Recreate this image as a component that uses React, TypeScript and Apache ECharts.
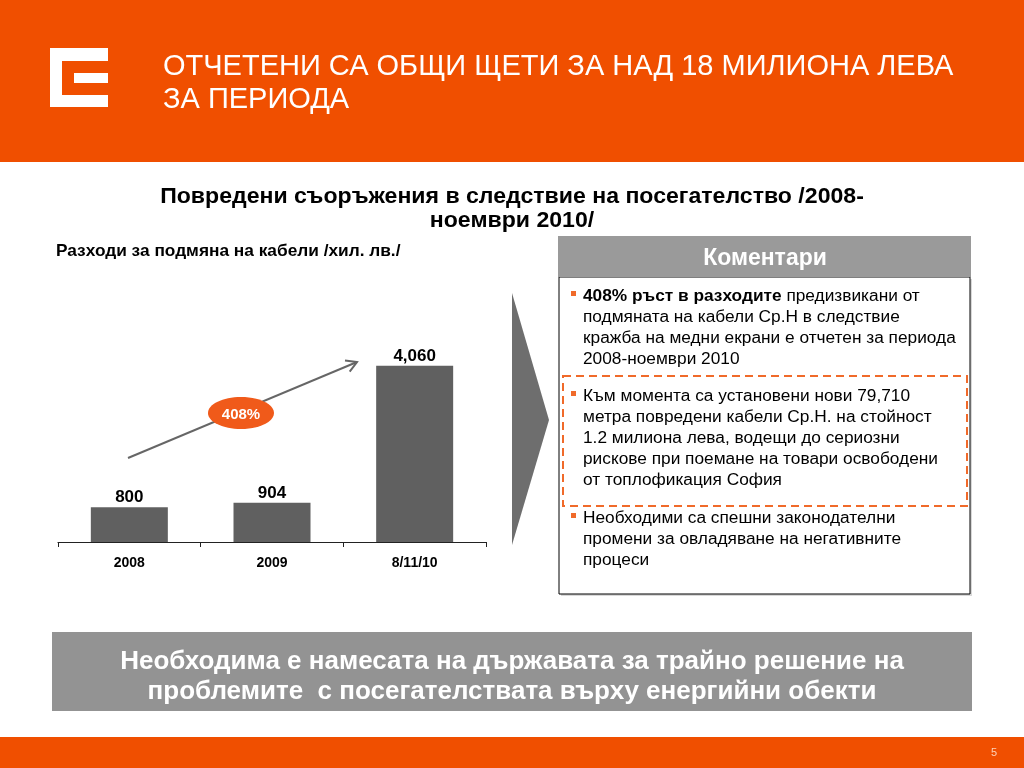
import React, { useEffect, useRef } from "react";
import * as echarts from "echarts";

const categories = ["2008", "2009", "8/11/10"];
const costs = [800, 904, 4060];
const growthLabel = "408%";
const titleLines = ["ОТЧЕТЕНИ СА ОБЩИ ЩЕТИ ЗА НАД 18 МИЛИОНА ЛЕВА", "ЗА ПЕРИОДА"];
const chartTitleLines = [
  "Повредени съоръжения в следствие на посегателство /2008-",
  "ноември 2010/",
];
const subtitle = "Разходи за подмяна на кабели /хил. лв./";
const commentHeader = "Коментари";
const bullet1Lines = [
  "{b|408% ръст в разходите} предизвикани от",
  "подмяната на кабели Ср.Н в следствие",
  "кражба на медни екрани е отчетен за периода",
  "2008-ноември 2010",
];
const bullet2Lines = [
  "Към момента са установени нови 79,710",
  "метра повредени кабели Ср.Н. на стойност",
  "1.2 милиона лева, водещи до сериозни",
  "рискове при поемане на товари освободени",
  "от топлофикация София",
];
const bullet3Lines = [
  "Необходими са спешни законодателни",
  "промени за овладяване на негативните",
  "процеси",
];
const bannerLines = [
  "Необходима е намесата на държавата за трайно решение на",
  "проблемите  с посегателствата върху енергийни обекти",
];
const pageNumber = "5";

const FONT = "Liberation Sans, Arial, sans-serif";
const ORANGE = "#F04F00";

export default function App() {
  const ref = useRef<HTMLDivElement>(null);

  useEffect(() => {
    if (!ref.current) return;
    const chart = echarts.init(ref.current, null, { renderer: "svg" });

    const graphics: any[] = [];
    graphics.push({ type: "rect", shape: { x: 0, y: 0, width: 1024, height: 162 }, style: { fill: ORANGE }, z: 0 });
    const logoRects = [
      [50, 48, 12, 59],
      [50, 48, 58, 13],
      [50, 95, 58, 12],
      [74, 73, 34, 10],
    ];
    logoRects.forEach(([x, y, w, h]) =>
      graphics.push({ type: "rect", shape: { x, y, width: w, height: h }, style: { fill: "#fff" } })
    );
    titleLines.forEach((t, i) =>
      graphics.push({
        type: "text",
        x: 163,
        y: 65 + i * 33,
        style: { text: t, fill: "#fff", fontSize: 29, fontFamily: FONT, textAlign: "left", textVerticalAlign: "middle" },
      })
    );
    graphics.push({ type: "rect", shape: { x: 0, y: 737, width: 1024, height: 31 }, style: { fill: ORANGE } });
    graphics.push({
      type: "text",
      x: 994,
      y: 752,
      style: { text: pageNumber, fill: "#fcd3b8", fontSize: 11, fontFamily: FONT, textAlign: "center", textVerticalAlign: "middle" },
    });
    chartTitleLines.forEach((t, i) =>
      graphics.push({
        type: "text",
        x: 512,
        y: 196 + i * 24,
        scaleX: 1.05,
        style: { text: t, fill: "#000", fontSize: 22, fontWeight: "bold", fontFamily: FONT, textAlign: "center", textVerticalAlign: "middle" },
      })
    );
    graphics.push({
      type: "text",
      x: 56,
      y: 250,
      style: { text: subtitle, fill: "#000", fontSize: 17.3, fontWeight: "bold", fontFamily: FONT, textAlign: "left", textVerticalAlign: "middle" },
    });
    graphics.push({ type: "line", shape: { x1: 128, y1: 458, x2: 357, y2: 362 }, style: { stroke: "#666", lineWidth: 2 } });
    graphics.push({
      type: "polyline",
      shape: { points: [[345, 360.5], [357, 362], [349.7, 371.6]] },
      style: { stroke: "#666", lineWidth: 2, fill: null },
    });
    graphics.push({ type: "ellipse", shape: { cx: 241, cy: 413, rx: 33, ry: 16 }, style: { fill: "#F05A1A" } });
    graphics.push({
      type: "text",
      x: 241,
      y: 413,
      style: { text: growthLabel, fill: "#fff", fontSize: 15, fontWeight: "bold", fontFamily: FONT, textAlign: "center", textVerticalAlign: "middle" },
    });
    graphics.push({
      type: "polygon",
      shape: { points: [[512, 293], [549, 420], [512, 545]] },
      style: { fill: "#6e6e6e" },
    });
    graphics.push({
      type: "rect",
      shape: { x: 561, y: 279, width: 411, height: 317 },
      style: { fill: "#d8d8d8" },
    });
    graphics.push({
      type: "rect",
      shape: { x: 559, y: 277, width: 411, height: 317 },
      style: { fill: "#fff", stroke: "#000", lineWidth: 1 },
    });
    graphics.push({ type: "rect", shape: { x: 558, y: 236, width: 413, height: 41 }, style: { fill: "#9a9a9a" } });
    graphics.push({
      type: "text",
      x: 765,
      y: 257,
      style: { text: commentHeader, fill: "#fff", fontSize: 23, fontWeight: "bold", fontFamily: FONT, textAlign: "center", textVerticalAlign: "middle" },
    });
    const addBullet = (lines: string[], y0: number) => {
      graphics.push({ type: "rect", shape: { x: 571, y: y0 - 4, width: 5, height: 5 }, style: { fill: "#F06A2A" } });
      lines.forEach((t, i) =>
        graphics.push({
          type: "text",
          x: 583,
          y: y0 + i * 21,
          style: {
            text: t,
            fill: "#000",
            fontSize: 17.3,
            fontFamily: FONT,
            textAlign: "left",
            textVerticalAlign: "middle",
            rich: { b: { fontSize: 17.3, fontWeight: "bold", fontFamily: FONT, fill: "#000" } },
          },
        })
      );
    };
    addBullet(bullet1Lines, 295);
    addBullet(bullet2Lines, 395);
    addBullet(bullet3Lines, 517);
    graphics.push({
      type: "rect",
      shape: { x: 563, y: 376, width: 404, height: 130 },
      style: { fill: null, stroke: "#F06A2A", lineWidth: 2, lineDash: [8, 5] },
    });
    graphics.push({ type: "rect", shape: { x: 52, y: 632, width: 920, height: 79 }, style: { fill: "#939393" } });
    bannerLines.forEach((t, i) =>
      graphics.push({
        type: "text",
        x: 512,
        y: 660 + i * 30,
        style: { text: t, fill: "#fff", fontSize: 26, fontWeight: "bold", fontFamily: FONT, textAlign: "center", textVerticalAlign: "middle" },
      })
    );

    chart.setOption({
      animation: false,
      grid: { left: 58, right: 538, top: 325, bottom: 226, containLabel: false },
      xAxis: {
        type: "category",
        data: categories,
        axisLine: { lineStyle: { color: "#222", width: 1.2 } },
        axisTick: { show: true, length: 5, lineStyle: { color: "#222" } },
        axisLabel: { color: "#000", fontSize: 14, fontWeight: "bold", fontFamily: FONT, margin: 13 },
      },
      yAxis: { type: "value", min: 0, max: 5000, show: false, splitLine: { show: false } },
      series: [
        {
          type: "bar",
          data: costs,
          barWidth: 77,
          itemStyle: { color: "#606060" },
          label: {
            show: true,
            position: "top",
            distance: 2,
            color: "#000",
            fontSize: 17,
            fontWeight: "bold",
            fontFamily: FONT,
            formatter: (p: any) => Number(p.value).toLocaleString("en-US"),
          },
        },
      ],
      graphic: { elements: graphics },
    });

    return () => chart.dispose();
  }, []);

  return <div ref={ref} style={{ position: "fixed", left: 0, top: 0, width: 1024, height: 768 }} />;
}
